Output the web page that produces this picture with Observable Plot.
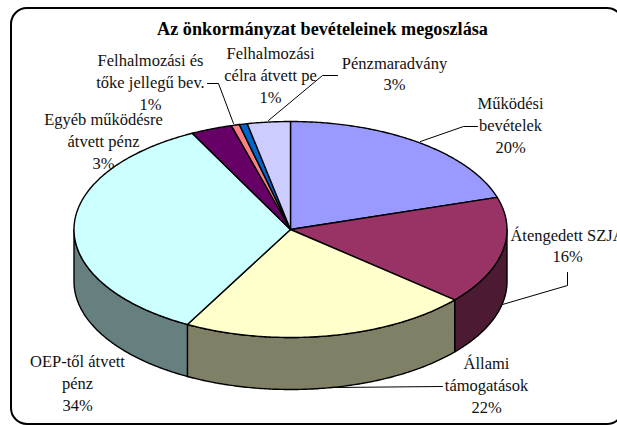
<!DOCTYPE html>
<html>
<head>
<meta charset="utf-8">
<style>html,body{margin:0;padding:0;background:#fff}svg{display:block}</style>
<script src="https://cdn.jsdelivr.net/npm/d3@7"></script>
<script src="https://cdn.jsdelivr.net/npm/@observablehq/plot@0.6"></script>
</head>
<body>
<div id="chart"></div>
<script>
const categories = ["Működési bevételek","Átengedett SZJA","Állami támogatások","OEP-től átvett pénz","Egyéb működésre átvett pénz","Felhalmozási és tőke jellegű bev.","Felhalmozási célra átvett pe","Pénzmaradvány"];
const values = [20.2,16.1,21.6,34.6,3.1,0.6,0.6,3.2];
const percents = ["20%","16%","22%","34%","3%","1%","1%","3%"];
const labelLines = [
  ["Működési","bevételek"],["Átengedett SZJA"],["Állami","támogatások"],["OEP-től átvett","pénz"],
  ["Egyéb működésre","átvett pénz"],["Felhalmozási és","tőke jellegű bev."],["Felhalmozási","célra átvett pe"],["Pénzmaradvány"]
];
const topColors = ["#9999FF","#993366","#FFFFCC","#CCFFFF","#660066","#FF8080","#0066CC","#CCCCFF"];
const sideColors = ["#4D4D80","#4D1A33","#808066","#668080","#330033","#804040","#003366","#666680"];
const title = "Az önkormányzat bevételeinek megoszlása";

// layout
const W = 617, H = 425;
const cx = 290, cy = 229, rx = 216.5, ry = 108, depth = 52;
const labelPos = [[510,123.5],[567,244],[486,383.5],[77,381.5],[103,139.5],[150,80.5],[270,73.5],[394,72]];
const leaders = [
  [[420,141],[463,126],[477,126]],
  [[502,304],[567,285],[567,272]],
  [[334,387],[442,386]],
  [],
  [],
  [[207,83],[218,83],[233,123]],
  [[268,120],[322,75],[337,75]],
  []
];

const total = d3.sum(values);
const cum = d3.cumsum(values);
const ang = i => (i < 0 ? 0 : cum[i] / total * 2 * Math.PI);
const pt = (t, dz = 0) => ({x: cx + rx * Math.sin(t), y: cy - ry * Math.cos(t) + dz});
const arc = (a, b, dz = 0) => {
  const n = Math.max(2, Math.ceil((b - a) / 0.01));
  return d3.range(n + 1).map(k => pt(a + (b - a) * k / n, dz));
};

const marks = [];
marks.push(Plot.rect([{x1:11,x2:623,y1:8,y2:424}], {x1:"x1",x2:"x2",y1:"y1",y2:"y2",rx:16,fill:"#fff",stroke:"#000",strokeWidth:2}));

// front wall: only the part of each slice facing the viewer
categories.forEach((c, i) => {
  const a = Math.max(ang(i - 1), Math.PI / 2), b = Math.min(ang(i), 3 * Math.PI / 2);
  if (b <= a) return;
  const poly = [...arc(a, b), ...arc(a, b, depth).reverse()];
  poly.push(poly[0]);
  marks.push(Plot.line(poly, {x:"x",y:"y",fill:sideColors[i],stroke:"#000",strokeWidth:1.4,curve:"linear"}));
});
// top face
categories.forEach((c, i) => {
  const poly = [{x:cx,y:cy}, ...arc(ang(i - 1), ang(i)), {x:cx,y:cy}];
  marks.push(Plot.line(poly, {x:"x",y:"y",fill:topColors[i],stroke:"#000",strokeWidth:1.4,curve:"linear"}));
});
// leader lines
leaders.forEach(l => { if (l.length) marks.push(Plot.line(l, {x:d=>d[0],y:d=>d[1],stroke:"#000",strokeWidth:1,curve:"linear"})); });
// labels
const labels = categories.map((c, i) => ({text:[...labelLines[i], percents[i]].join("\n"), x:labelPos[i][0], y:labelPos[i][1]}));
marks.push(Plot.text(labels, {x:"x",y:"y",text:"text",fontFamily:"Liberation Serif",fontSize:16.5,lineHeight:1.32,fill:"#111",textAnchor:"middle"}));
marks.push(Plot.text([title], {x:()=>322,y:()=>29,text:d=>d,fontFamily:"Liberation Serif",fontSize:18.2,fontWeight:"bold",fill:"#000"}));

const chart = Plot.plot({
  width:W,height:H,margin:0,
  style:{background:"#fff",overflow:"hidden"},
  x:{domain:[0,W],range:[0,W],axis:null},
  y:{domain:[0,H],range:[0,H],axis:null},
  marks
});
document.getElementById("chart").appendChild(chart);
</script>
</body>
</html>
